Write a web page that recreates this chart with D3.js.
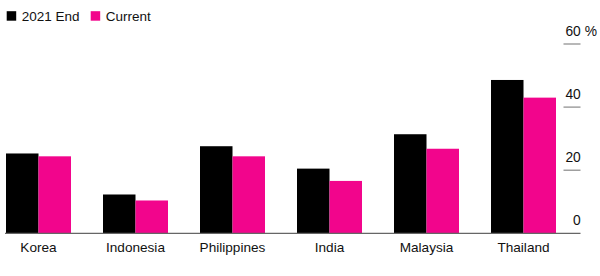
<!DOCTYPE html>
<html>
<head>
<meta charset="utf-8">
<script src="https://cdn.jsdelivr.net/npm/d3@7"></script>
<style>
  html, body { margin: 0; padding: 0; background: #fff; }
  svg { display: block; font-family: "Liberation Sans", Arial, sans-serif; }
</style>
</head>
<body>
<svg id="chart" width="600" height="276"></svg>
<script>
const categories = ["Korea", "Indonesia", "Philippines", "India", "Malaysia", "Thailand"];
const seriesNames = ["2021 End", "Current"];
const end2021 = [25.3, 12.3, 27.6, 20.5, 31.4, 48.6];
const current = [24.4, 10.4, 24.4, 16.6, 26.8, 43.0];
const tickValues = [0, 20, 40, 60];
const colors = ["#000000", "#f2058c"];

const svg = d3.select("#chart");
const baselineY = 233.3;
const topY = 44;

const y = d3.scaleLinear().domain([0, 60]).range([baselineY, topY]);
const x0 = d3.scaleBand().domain(categories).range([6, 556]).paddingInner(0.33).paddingOuter(0);
const x1 = d3.scaleBand().domain(seriesNames).range([0, x0.bandwidth()]).padding(0);

const data = categories.map((c, i) => ({ cat: c, vals: [end2021[i], current[i]] }));

// bars
const groups = svg.append("g").selectAll("g").data(data).join("g")
  .attr("transform", d => `translate(${x0(d.cat)},0)`);
groups.selectAll("rect").data(d => d.vals.map((v, j) => ({ v, s: seriesNames[j], j })))
  .join("rect")
  .attr("x", d => x1(d.s))
  .attr("width", x1.bandwidth())
  .attr("y", d => y(d.v))
  .attr("height", d => y(0) - y(d.v))
  .attr("fill", d => colors[d.j]);

// baseline
svg.append("line")
  .attr("x1", 5).attr("x2", 580.5)
  .attr("y1", y(0)).attr("y2", y(0))
  .attr("stroke", "#666").attr("stroke-width", 1.2);

// right axis
const axisG = svg.append("g");
tickValues.forEach(t => {
  if (t !== 0) {
    axisG.append("line")
      .attr("x1", 563.5).attr("x2", 580.5)
      .attr("y1", y(t)).attr("y2", y(t))
      .attr("stroke", "#888").attr("stroke-width", 1.2);
  }
  const txt = axisG.append("text")
    .attr("y", y(t) - 8)
    .attr("font-size", 13.8)
    .attr("fill", "#111");
  const num = txt.append("tspan").text(String(t));
  if (t === 60) txt.append("tspan").text(" %");
  const w = num.node().getComputedTextLength();
  txt.attr("x", 580.8 - w);
});

// category labels
svg.append("g").selectAll("text").data(categories).join("text")
  .attr("x", d => x0(d) + x0.bandwidth() / 2)
  .attr("y", 251.5)
  .attr("text-anchor", "middle")
  .attr("font-size", 13.6)
  .attr("fill", "#111")
  .text(d => d);

// legend
const legend = svg.append("g");
const legX = [6.7, 90.7];
seriesNames.forEach((s, i) => {
  legend.append("rect")
    .attr("x", legX[i]).attr("y", 11.2)
    .attr("width", 9.5).attr("height", 9.5)
    .attr("fill", colors[i]);
  legend.append("text")
    .attr("x", legX[i] + 15).attr("y", 20.6)
    .attr("font-size", 13.5)
    .attr("fill", "#111")
    .text(s);
});
</script>
</body>
</html>
